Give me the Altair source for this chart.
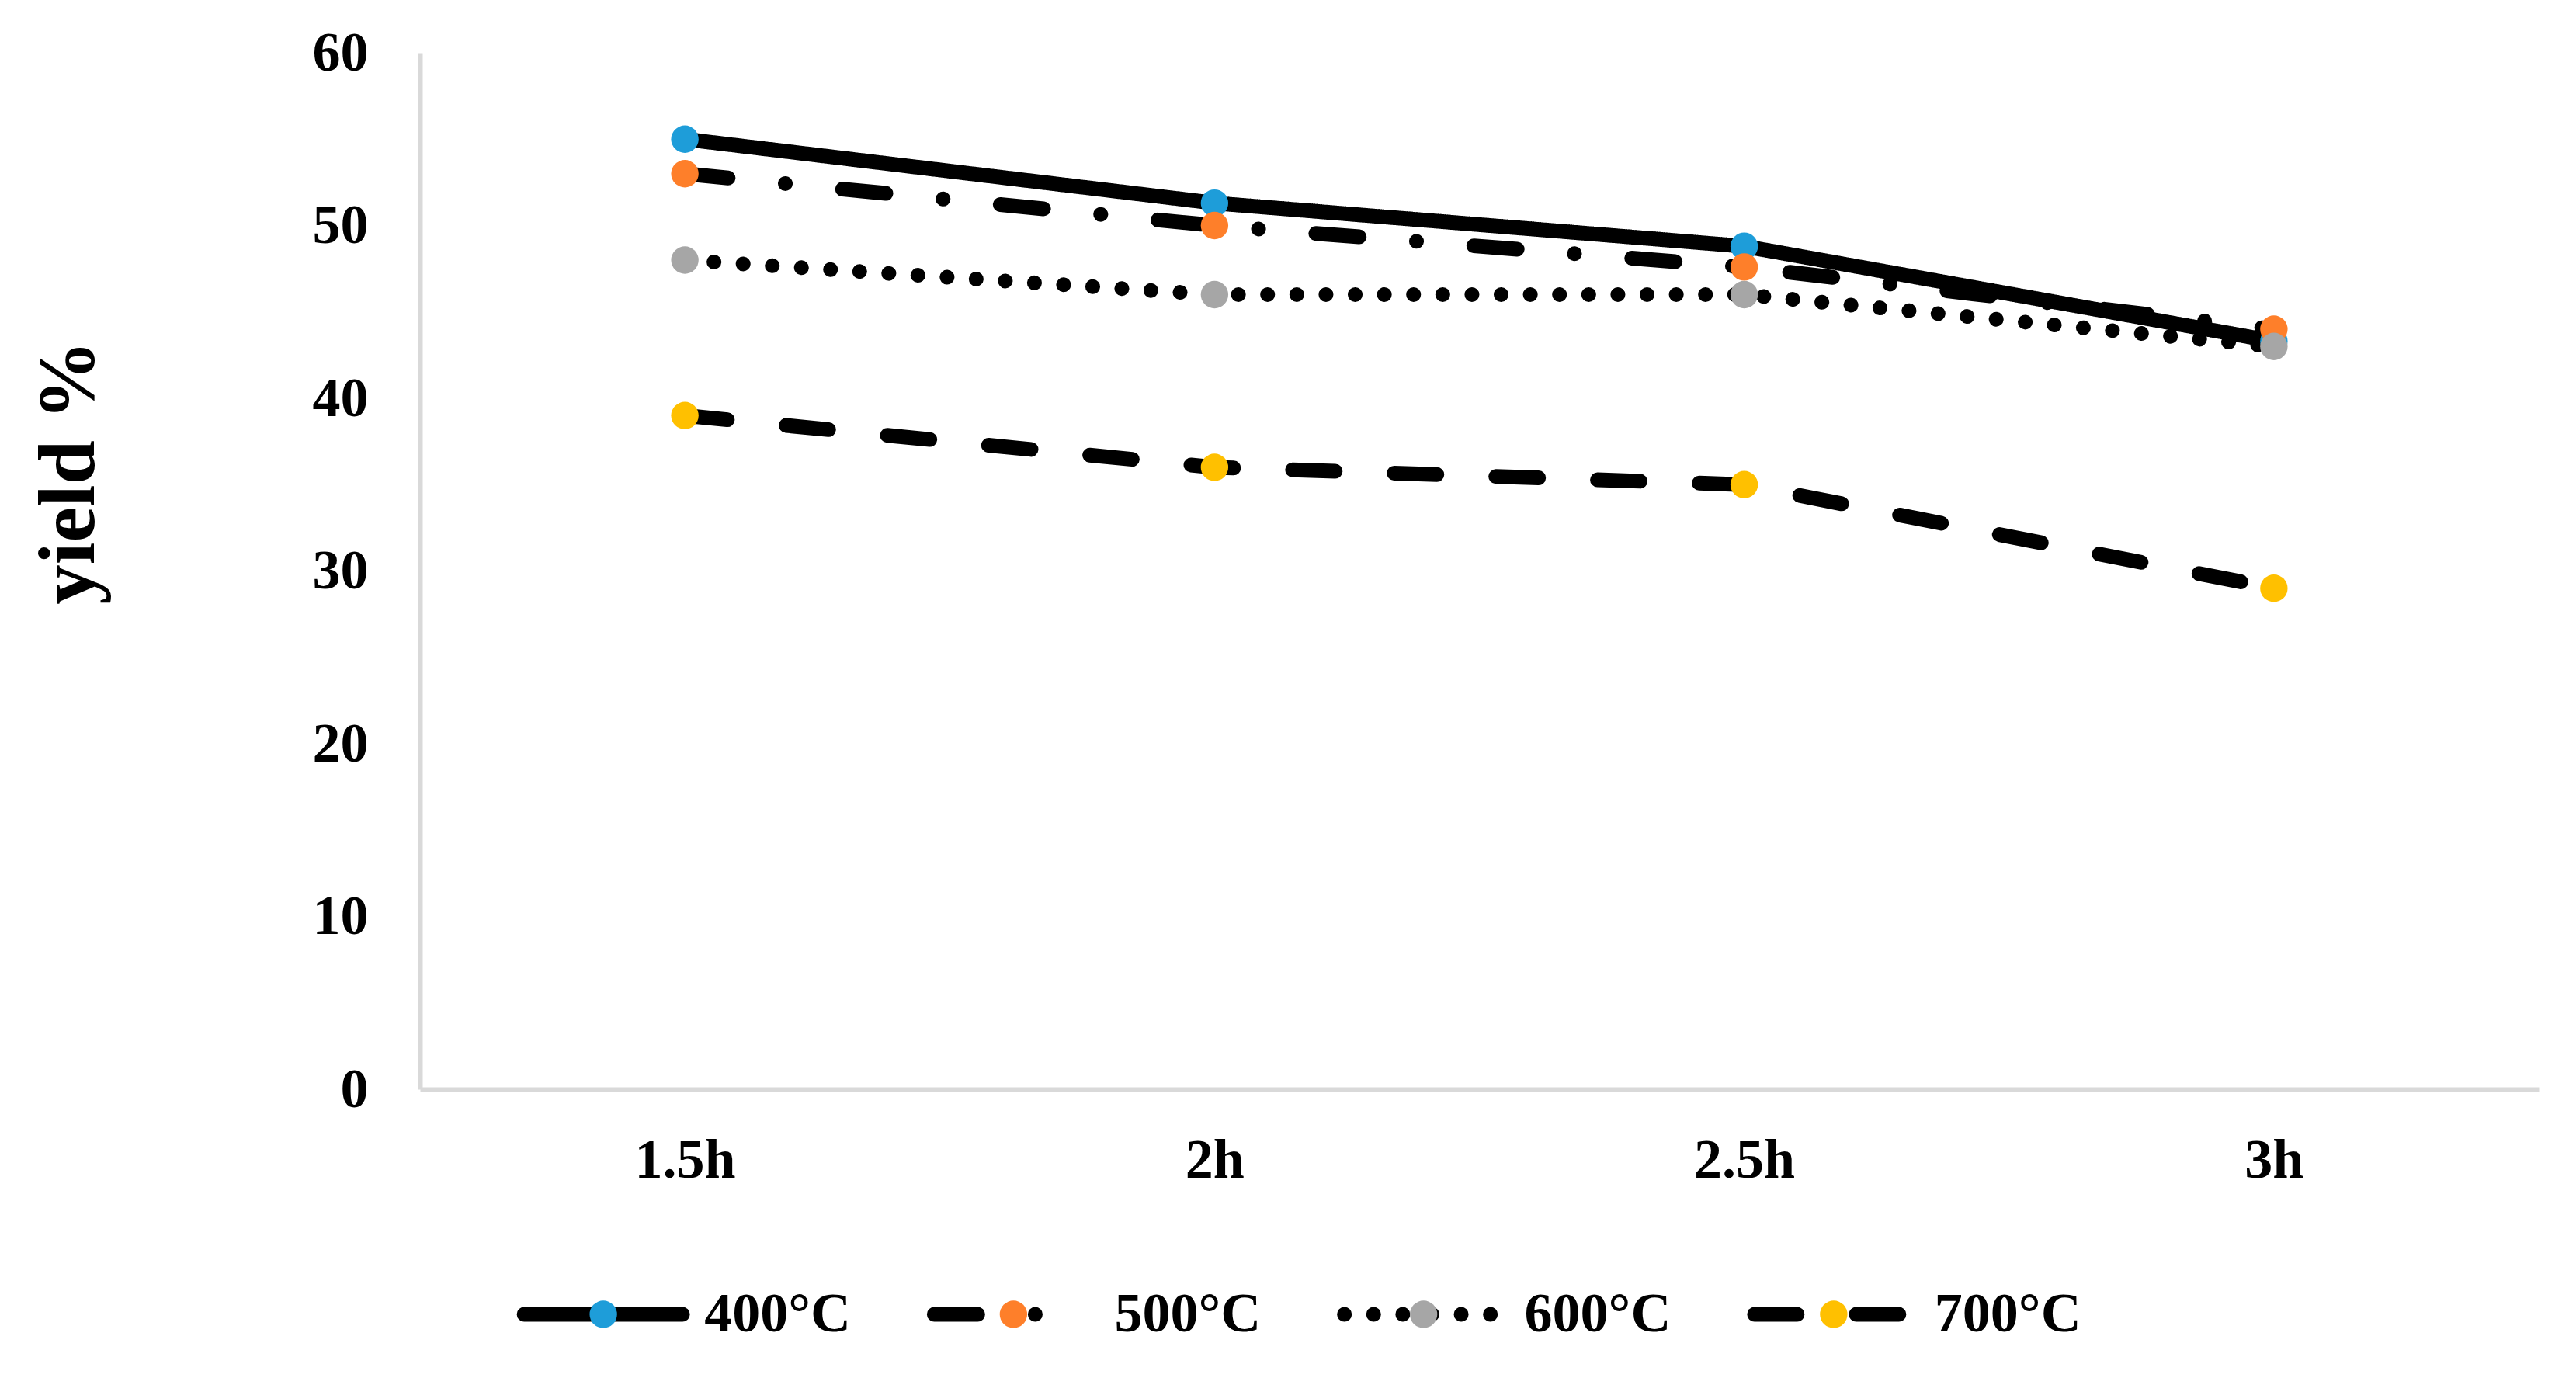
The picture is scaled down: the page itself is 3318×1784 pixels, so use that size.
import altair as alt
import pandas as pd

times = ["1.5h", "2h", "2.5h", "3h"]
series = ["400°C", "500°C", "600°C", "700°C"]
y400 = [55, 51.3, 48.8, 43.3]
y500 = [53, 50, 47.6, 44]
y600 = [48, 46, 46, 43]
y700 = [39, 36, 35, 29]

marker_colors = ["#1E9DD9", "#FE7F2A", "#A6A6A6", "#FFC000"]
dashes = [[1, 0], [56, 74, 0.1, 74], [0.1, 37.5], [55, 76]]

rows = []
for s, vals in zip(series, [y400, y500, y600, y700]):
    for t, v in zip(times, vals):
        rows.append({"time": t, "series": s, "yield": v})
df = pd.DataFrame(rows)
leg_df = pd.DataFrame({"series": series})

FONT = "Liberation Serif"

x_enc = alt.X(
    "time:N", sort=times,
    scale=alt.Scale(type="point", padding=0.5),
    axis=alt.Axis(title=None, labelAngle=0, ticks=False, labelPadding=56,
                  labelFontSize=72, labelFont=FONT, labelFontWeight="bold",
                  labelColor="black", domainColor="#D9D9D9", domainWidth=6, grid=False),
)
y_enc = alt.Y(
    "yield:Q", scale=alt.Scale(domain=[0, 60], nice=False),
    axis=alt.Axis(title="yield %", values=[0, 10, 20, 30, 40, 50, 60], ticks=False,
                  labelPadding=67, labelFontSize=72, labelFont=FONT, labelFontWeight="bold",
                  labelColor="black", domainColor="#D9D9D9", domainWidth=6, grid=False,
                  titleFontSize=103, titleFont=FONT, titleFontWeight="bold", titleColor="black",
                  titleX=-452, titleY=540, titleBaseline="middle", titleAlign="center"),
)

dash_scale = alt.Scale(domain=series, range=dashes)
fill_scale = alt.Scale(domain=series, range=marker_colors)

lines = alt.Chart(df).mark_line(strokeWidth=19, color="black", strokeCap="round", strokeJoin="round").encode(
    x=x_enc, y=y_enc,
    strokeDash=alt.StrokeDash("series:N", scale=dash_scale, legend=None),
)
points = alt.Chart(df).mark_circle(size=1250, opacity=1).encode(
    x=x_enc, y=y_enc,
    color=alt.Color("series:N", scale=fill_scale, legend=None),
)
main = alt.layer(lines, points).properties(width=2729, height=1335)

lx = alt.X("series:N", sort=series, scale=alt.Scale(type="point", padding=0.447), axis=None)
leg_lines = alt.Chart(leg_df).mark_rule(strokeWidth=19, color="black", strokeCap="round",
                                        xOffset=-102, x2Offset=102).encode(
    x=lx, x2=alt.X2("series"),
    strokeDash=alt.StrokeDash("series:N", scale=dash_scale, legend=None),
)
leg_pts = alt.Chart(leg_df).mark_circle(size=1250, opacity=1).encode(
    x=lx, color=alt.Color("series:N", scale=fill_scale, legend=None),
)
leg_txt = alt.Chart(leg_df).mark_text(align="left", baseline="middle", dx=130, fontSize=72,
                                      font=FONT, fontWeight="bold", color="black").encode(
    x=lx, text="series:N",
)
legend = alt.layer(leg_lines, leg_pts, leg_txt).properties(width=2057, height=80)

chart = alt.vconcat(main, legend, spacing=250, bounds="flush").properties(
    padding={"left": 29, "top": 24, "right": 20, "bottom": 20}
).configure(font=FONT, background="white").configure_view(
    strokeWidth=0, stroke="transparent")

chart.save("out.html", embed_options={"renderer": "svg", "actions": False})
